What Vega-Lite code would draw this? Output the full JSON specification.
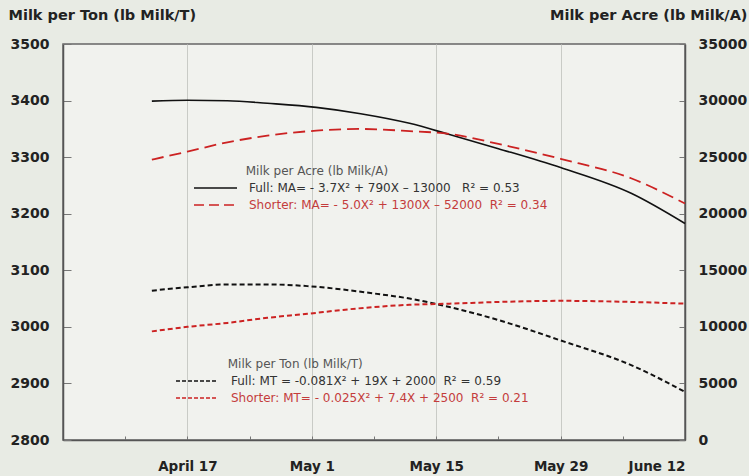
{
  "$schema": "https://vega.github.io/schema/vega-lite/v6.json",
  "width": 622,
  "height": 396,
  "autosize": "none",
  "padding": {"left": 63, "top": 44, "right": 64, "bottom": 36},
  "background": "#e8ebe4",
  "config": {
    "view": {"fill": "#f1f2ee", "stroke": "#666666", "strokeWidth": 1.5},
    "font": "DejaVu Sans",
    "axis": {"labelFont": "DejaVu Sans", "titleFont": "DejaVu Sans", "domainColor": "#555555", "domainWidth": 1.5, "tickColor": "#777777"},
    "legend": {"labelFont": "DejaVu Sans", "titleFont": "DejaVu Sans", "padding": 0, "labelLimit": 500, "titleLimit": 500}
  },
  "data": {
    "values": [
      {"s": "MA_full", "day": 103, "v": 29950},
      {"s": "MA_full", "day": 107, "v": 30030},
      {"s": "MA_full", "day": 111.5, "v": 29990},
      {"s": "MA_full", "day": 116, "v": 29760},
      {"s": "MA_full", "day": 121.5, "v": 29400},
      {"s": "MA_full", "day": 126.5, "v": 28840},
      {"s": "MA_full", "day": 132, "v": 27990},
      {"s": "MA_full", "day": 136.5, "v": 27000},
      {"s": "MA_full", "day": 142, "v": 25750},
      {"s": "MA_full", "day": 149, "v": 24080},
      {"s": "MA_full", "day": 157, "v": 21790},
      {"s": "MA_full", "day": 163, "v": 19140},
      {"s": "MA_short", "day": 103, "v": 24780},
      {"s": "MA_short", "day": 107, "v": 25490},
      {"s": "MA_short", "day": 111.5, "v": 26310},
      {"s": "MA_short", "day": 116, "v": 26900},
      {"s": "MA_short", "day": 121.5, "v": 27340},
      {"s": "MA_short", "day": 126.5, "v": 27490},
      {"s": "MA_short", "day": 132, "v": 27300},
      {"s": "MA_short", "day": 136.5, "v": 27050},
      {"s": "MA_short", "day": 142, "v": 26170},
      {"s": "MA_short", "day": 149, "v": 24850},
      {"s": "MA_short", "day": 157, "v": 23110},
      {"s": "MA_short", "day": 163, "v": 20900},
      {"s": "MT_full", "day": 103, "v": 3064},
      {"s": "MT_full", "day": 107, "v": 3070},
      {"s": "MT_full", "day": 111.5, "v": 3075},
      {"s": "MT_full", "day": 116, "v": 3075},
      {"s": "MT_full", "day": 120.5, "v": 3072},
      {"s": "MT_full", "day": 124.5, "v": 3066},
      {"s": "MT_full", "day": 128, "v": 3059},
      {"s": "MT_full", "day": 132, "v": 3050},
      {"s": "MT_full", "day": 136.5, "v": 3035},
      {"s": "MT_full", "day": 142, "v": 3012},
      {"s": "MT_full", "day": 149, "v": 2976},
      {"s": "MT_full", "day": 157, "v": 2932},
      {"s": "MT_full", "day": 163, "v": 2885},
      {"s": "MT_short", "day": 103, "v": 2992},
      {"s": "MT_short", "day": 107, "v": 3000},
      {"s": "MT_short", "day": 111.5, "v": 3007},
      {"s": "MT_short", "day": 116, "v": 3016},
      {"s": "MT_short", "day": 120.5, "v": 3023},
      {"s": "MT_short", "day": 124.5, "v": 3030},
      {"s": "MT_short", "day": 128, "v": 3035},
      {"s": "MT_short", "day": 132, "v": 3039},
      {"s": "MT_short", "day": 136.5, "v": 3041},
      {"s": "MT_short", "day": 142, "v": 3044},
      {"s": "MT_short", "day": 149, "v": 3046},
      {"s": "MT_short", "day": 157, "v": 3044},
      {"s": "MT_short", "day": 163, "v": 3041}
    ]
  },
  "encoding": {
    "x": {
      "field": "day", "type": "quantitative",
      "scale": {"domain": [93, 163], "nice": false, "zero": false},
      "axis": {
        "title": null,
        "values": [93, 100, 107, 114, 121, 128, 135, 142, 149, 156, 163],
        "labelExpr": "datum.value==107?'April 17':datum.value==121?'May 1':datum.value==135?'May 15':datum.value==149?'May 29':datum.value==163?'June 12':''",
        "labelFontSize": 13.5, "labelFontWeight": "bold", "labelColor": "#222222",
        "labelPadding": 23, "tickSize": -4,
        "grid": true,
        "gridColor": {"condition": {"test": "(datum.value-93)%14==0", "value": "#c9cbc6"}, "value": "transparent"},
        "gridWidth": 1
      }
    }
  },
  "layer": [
    {
      "transform": [{"filter": "datum.s=='MT_full'"}],
      "mark": {"type": "line", "interpolate": "monotone", "strokeDash": [5, 3], "strokeWidth": 2},
      "encoding": {
        "y": {
          "field": "v", "type": "quantitative",
          "scale": {"domain": [2800, 3500], "nice": false, "zero": false},
          "axis": {
            "orient": "left", "values": [2800, 2900, 3000, 3100, 3200, 3300, 3400, 3500], "format": "d",
            "labelFontSize": 14, "labelFontWeight": "bold", "labelColor": "#222222",
            "tickSize": -8, "labelPadding": 22, "grid": false,
            "title": "Milk per Ton (lb Milk/T)", "titleAngle": 0, "titleAlign": "left",
            "titleBaseline": "alphabetic", "titleX": -55, "titleY": -25,
            "titleFontSize": 14.5, "titleFontWeight": "bold", "titleColor": "#222222"
          }
        },
        "color": {
          "field": "s", "type": "nominal", "scale": {"range": ["#111111"]},
          "legend": {
            "orient": "none", "legendX": 112, "legendY": 315,
            "title": "\u2800\u2800\u2800\u2800\u2800\u2800Milk per Ton (lb Milk/T)",
            "titleFontSize": 12, "titleFontWeight": "normal", "titleColor": "#555555", "titlePadding": -11,
            "labelExpr": "'Full: MT = -0.081X² + 19X + 2000\u00a0\u00a0R² = 0.59'",
            "labelFontSize": 12, "labelColor": "#333333", "labelOffset": 14,
            "symbolType": "stroke", "symbolSize": 1600, "symbolStrokeWidth": 1.5, "symbolDash": [4, 2]
          }
        }
      }
    },
    {
      "transform": [{"filter": "datum.s=='MT_short'"}],
      "mark": {"type": "line", "interpolate": "monotone", "strokeDash": [5, 3], "strokeWidth": 2},
      "encoding": {
        "y": {
          "field": "v", "type": "quantitative",
          "scale": {"domain": [2800, 3500], "nice": false, "zero": false},
          "axis": null
        },
        "color": {
          "field": "s", "type": "nominal", "scale": {"range": ["#cc2222"]},
          "legend": {
            "orient": "none", "legendX": 112, "legendY": 333, "title": null,
            "labelExpr": "'Shorter: MT= - 0.025X² + 7.4X + 2500\u00a0\u00a0R² = 0.21'",
            "labelFontSize": 12, "labelColor": "#c43c3c", "labelOffset": 14,
            "symbolType": "stroke", "symbolSize": 1600, "symbolStrokeWidth": 1.5, "symbolDash": [4, 2]
          }
        }
      }
    },
    {
      "transform": [{"filter": "datum.s=='MA_full'"}],
      "mark": {"type": "line", "interpolate": "monotone", "strokeWidth": 1.6},
      "encoding": {
        "y": {
          "field": "v", "type": "quantitative",
          "scale": {"domain": [0, 35000], "nice": false},
          "axis": {
            "orient": "right", "values": [0, 5000, 10000, 15000, 20000, 25000, 30000, 35000], "format": "d",
            "labelFontSize": 14, "labelFontWeight": "bold", "labelColor": "#222222",
            "tickSize": -6, "labelPadding": 19, "grid": false,
            "title": "Milk per Acre (lb Milk/A)", "titleAngle": 0, "titleAlign": "right",
            "titleBaseline": "alphabetic", "titleX": 62, "titleY": -25,
            "titleFontSize": 14.5, "titleFontWeight": "bold", "titleColor": "#222222"
          }
        },
        "color": {
          "field": "s", "type": "nominal", "scale": {"range": ["#111111"]},
          "legend": {
            "orient": "none", "legendX": 130, "legendY": 122,
            "title": "\u2800\u2800\u2800\u2800\u2800\u2800Milk per Acre (lb Milk/A)",
            "titleFontSize": 12, "titleFontWeight": "normal", "titleColor": "#555555", "titlePadding": -12.5,
            "labelExpr": "'Full: MA= - 3.7X² + 790X – 13000\u00a0\u00a0\u00a0R² = 0.53'",
            "labelFontSize": 12, "labelColor": "#333333", "labelOffset": 11,
            "symbolType": "stroke", "symbolSize": 1850, "symbolStrokeWidth": 1.5
          }
        }
      }
    },
    {
      "transform": [{"filter": "datum.s=='MA_short'"}],
      "mark": {"type": "line", "interpolate": "monotone", "strokeDash": [12, 6], "strokeWidth": 1.8},
      "encoding": {
        "y": {
          "field": "v", "type": "quantitative",
          "scale": {"domain": [0, 35000], "nice": false},
          "axis": null
        },
        "color": {
          "field": "s", "type": "nominal", "scale": {"range": ["#cc2222"]},
          "legend": {
            "orient": "none", "legendX": 130, "legendY": 138.5, "title": null,
            "labelExpr": "'Shorter: MA= - 5.0X² + 1300X – 52000\u00a0\u00a0R² = 0.34'",
            "labelFontSize": 12, "labelColor": "#c43c3c", "labelOffset": 11,
            "symbolType": "stroke", "symbolSize": 1850, "symbolStrokeWidth": 1.5, "symbolDash": [10, 5]
          }
        }
      }
    }
  ],
  "resolve": {
    "scale": {"y": "independent", "color": "independent"},
    "axis": {"y": "independent"},
    "legend": {"color": "independent"}
  }
}
